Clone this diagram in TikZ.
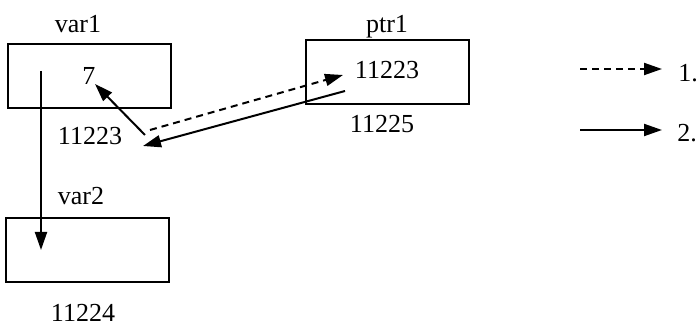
\documentclass[tikz,border=0pt]{standalone}
\usepackage{fontspec}
\setmainfont{Liberation Serif}
\usetikzlibrary{arrows.meta}

\begin{document}
\begin{tikzpicture}[x=0.5pt, y=-0.5pt, line width=1pt,
  cell/.style={draw, minimum width=81.5pt, minimum height=32pt, inner sep=0pt},
  txt/.style={font=\fontsize{13}{15}\selectfont, inner sep=0pt, anchor=base},
  ptr/.style={-{Triangle[length=9pt,width=6pt]}},
  dsh/.style={ptr, dash pattern=on 3.5pt off 2.5pt}]
\useasboundingbox (0,0) rectangle (698,325);

% memory cells
\node[cell] (var1) at (89.5,76) {};
\node[cell] (var2) at (87,250) {};
\node[cell] (ptr1) at (387.5,72) {};

\node[txt] (var1name) at (78,33) {var1};
\node[txt] (var2name) at (81,205) {var2};
\node[txt] (ptr1name) at (387,33) {ptr1};

\node[txt] (val7) at (89,85) {7};
\node[txt] (ptrval) at (387,79) {11223};

\node[txt] (addr1) at (90,145) {11223};
\node[txt] (addr2) at (83,322) {11224};
\node[txt] (addr3) at (382,133) {11225};

% arrow ends
\coordinate (c1) at (41,71);
\coordinate (c2) at (41,250);
\coordinate (c3) at (145,135);
\coordinate (c4) at (95,84);
\coordinate (c5) at (150,130);
\coordinate (c6) at (343,75);
\coordinate (c7) at (345,91);
\coordinate (c8) at (143,146);

\draw[ptr] (c1) -- (c2);
\draw[ptr] (c3) -- (c4);
\draw[dsh] (c5) -- (c6);
\draw[ptr] (c7) -- (c8);

% legend
\coordinate (k1) at (580,69);
\coordinate (k2) at (662,69);
\coordinate (k3) at (580,130);
\coordinate (k4) at (662,130);
\draw[dsh] (k1) -- (k2);
\draw[ptr] (k3) -- (k4);
\node[txt] (one) at (688,82) {1.};
\node[txt] (two) at (687,142) {2.};
\end{tikzpicture}
\end{document}
